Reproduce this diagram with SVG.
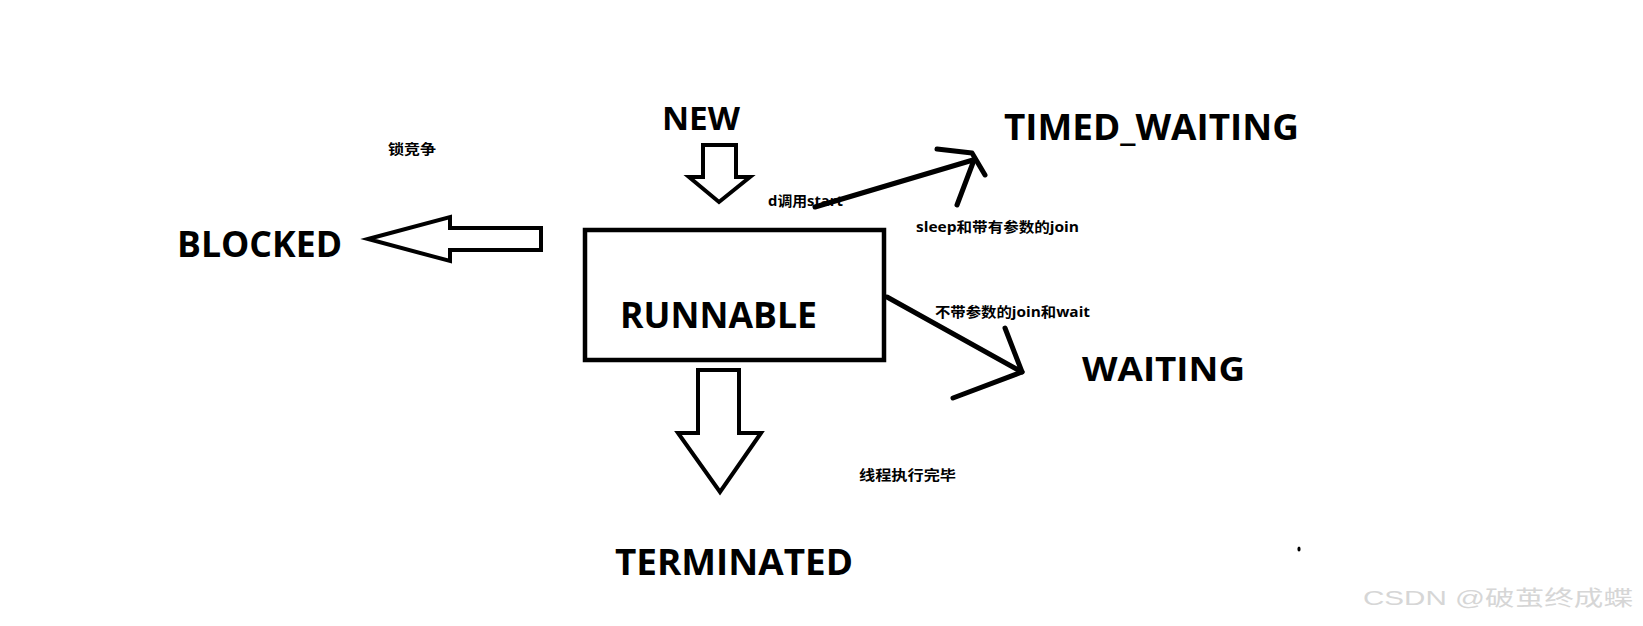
<svg xmlns="http://www.w3.org/2000/svg" width="1643" height="626" viewBox="0 0 1643 626">
<style>
.big{font-family:"Open Sans","Noto Sans CJK SC",sans-serif;font-weight:bold;fill:#000}
.lbl{font-family:"Open Sans","Noto Sans CJK SC",sans-serif;font-weight:bold;font-size:14px;fill:#000}
.blk{fill:#fff;stroke:#000;stroke-width:4;stroke-linejoin:miter}
.ln{fill:none;stroke:#000;stroke-width:5;stroke-linecap:round;stroke-linejoin:round}
.wm{font-family:"Liberation Sans","Noto Sans CJK SC",sans-serif;font-weight:normal;font-size:21px;fill:#d6d6d6}
</style>
<rect width="1643" height="626" fill="#fff"/>
<g id="new"><text class="big" x="662" y="130" font-size="32" textLength="78" lengthAdjust="spacingAndGlyphs">NEW</text></g>
<g id="runnable">
<rect x="585" y="230" width="299" height="130" fill="#fff" stroke="#000" stroke-width="4.5"/>
<text class="big" x="620" y="328" font-size="36" textLength="197" lengthAdjust="spacingAndGlyphs">RUNNABLE</text>
</g>
<g id="blocked"><text class="big" x="177" y="257" font-size="35" textLength="165" lengthAdjust="spacingAndGlyphs">BLOCKED</text></g>
<g id="timed_waiting"><text class="big" x="1004" y="140" font-size="35" textLength="295" lengthAdjust="spacingAndGlyphs">TIMED_WAITING</text></g>
<g id="waiting"><text class="big" x="1082" y="381" font-size="34" textLength="163" lengthAdjust="spacingAndGlyphs">WAITING</text></g>
<g id="terminated"><text class="big" x="615" y="575" font-size="35" textLength="238" lengthAdjust="spacingAndGlyphs">TERMINATED</text></g>
<g id="connectors">
<polygon class="blk" points="703,145 736,145 736,177 750,177 719,202 689,177 703,177"/>
<polygon class="blk" points="368,239 450,217 450,228 541,228 541,250 450,250 450,261"/>
<polygon class="blk" points="698,370 739,370 739,433 761,433 720,492 678,433 698,433"/>
<line class="ln" x1="815" y1="207" x2="973" y2="160"/>
<polyline class="ln" points="937,149 972,153 985,175"/>
<line class="ln" x1="974" y1="160" x2="957" y2="205"/>
<line class="ln" x1="887" y1="297" x2="1022" y2="372"/>
<polyline class="ln" points="1005,328 1022,372 953,398"/>
</g>
<g id="labels">
<text class="lbl" x="388" y="154" font-size="15" textLength="48" lengthAdjust="spacingAndGlyphs">锁竞争</text>
<text class="lbl" x="768" y="206" textLength="75" lengthAdjust="spacingAndGlyphs">d调用start</text>
<text class="lbl" x="916" y="232" textLength="163" lengthAdjust="spacingAndGlyphs">sleep和带有参数的join</text>
<text class="lbl" x="935" y="317" textLength="155" lengthAdjust="spacingAndGlyphs">不带参数的join和wait</text>
<text class="lbl" x="859" y="480" font-size="15" textLength="97" lengthAdjust="spacingAndGlyphs">线程执行完毕</text>
</g>
<ellipse cx="1299" cy="549" rx="1.6" ry="2.6" fill="#000"/>
<text class="wm" x="1363" y="605" textLength="270" lengthAdjust="spacingAndGlyphs">CSDN @破茧终成蝶</text>
</svg>
